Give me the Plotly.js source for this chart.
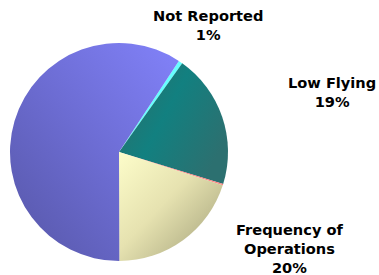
<!DOCTYPE html>
<html>
<head>
<meta charset="utf-8">
<script src="https://cdn.plot.ly/plotly-3.0.1.min.js"></script>
<style>html,body{margin:0;padding:0;background:#fff;}#chart{width:379px;height:275px;}</style>
</head>
<body>
<div id="chart"></div>
<script>
const categories = ["Not Reported", "Low Flying", "Other (unlabeled)", "Frequency of Operations", "Remaining (unlabeled)"];
const values = [0.6, 19.9, 0.2, 20.0, 59.3];
const sliceColors = ["#66ffff", "#1c7774", "#ff8080", "#e0dca8", "#6c6cd2"];
const labelTexts = ["Not Reported<br>1%", "Low Flying<br>19%", "Frequency of<br>Operations<br>20%"];
// gradient styling per slice: [x1,y1,x2,y2, stops]
const sliceGradients = [
  null,
  [0, 0, 1, 0.6, [[0, "#2f6c66"], [0.5, "#128080"], [1, "#2c7070"]]],
  null,
  [0, 0, 1, 1, [[0, "#fdfdca"], [0.45, "#e6e2b0"], [1, "#9e9c76"]]],
  [1, 0, 0, 1, [[0, "#8282fa"], [0.5, "#6c6cd2"], [1, "#5656a6"]]]
];

const trace = {
  type: "pie",
  labels: categories,
  values: values,
  sort: false,
  direction: "clockwise",
  rotation: 33.3,
  textinfo: "none",
  hoverinfo: "none",
  showlegend: false,
  marker: { colors: sliceColors, line: { width: 0 } },
  domain: { x: [10/379, 228/379], y: [1 - 261/275, 1 - 43/275] }
};

const font = { family: "DejaVu Sans, Verdana, sans-serif", size: 14.6, color: "#000" };
const layout = {
  width: 379, height: 275,
  margin: { l: 0, r: 0, t: 0, b: 0 },
  paper_bgcolor: "#fff",
  showlegend: false,
  annotations: [
    { text: "<b>" + labelTexts[0] + "</b>", x: 208/379, y: 1 - 25/275, xref: "paper", yref: "paper", showarrow: false, font: font, align: "center", xanchor: "center", yanchor: "middle" },
    { text: "<b>" + labelTexts[1] + "</b>", x: 332/379, y: 1 - 92/275, xref: "paper", yref: "paper", showarrow: false, font: font, align: "center", xanchor: "center", yanchor: "middle" },
    { text: "<b>" + labelTexts[2] + "</b>", x: 290/379, y: 1 - 249/275, xref: "paper", yref: "paper", showarrow: false, font: font, align: "center", xanchor: "center", yanchor: "middle" }
  ]
};

Plotly.newPlot("chart", [trace], layout, { displayModeBar: false, staticPlot: true }).then(function (gd) {
  const svgNS = "http://www.w3.org/2000/svg";
  const svg = gd.querySelector("svg.main-svg");
  let defs = svg.querySelector("defs");
  if (!defs) { defs = document.createElementNS(svgNS, "defs"); svg.insertBefore(defs, svg.firstChild); }
  const paths = gd.querySelectorAll("g.slice path.surface");
  paths.forEach(function (p, i) {
    const g = sliceGradients[i];
    if (!g) return;
    const id = "slicegrad" + i;
    const lg = document.createElementNS(svgNS, "linearGradient");
    lg.setAttribute("id", id);
    lg.setAttribute("x1", g[0]); lg.setAttribute("y1", g[1]);
    lg.setAttribute("x2", g[2]); lg.setAttribute("y2", g[3]);
    g[4].forEach(function (s) {
      const st = document.createElementNS(svgNS, "stop");
      st.setAttribute("offset", s[0]);
      st.setAttribute("stop-color", s[1]);
      lg.appendChild(st);
    });
    defs.appendChild(lg);
    p.style.fill = "url(#" + id + ")";
  });
});
</script>
</body>
</html>
